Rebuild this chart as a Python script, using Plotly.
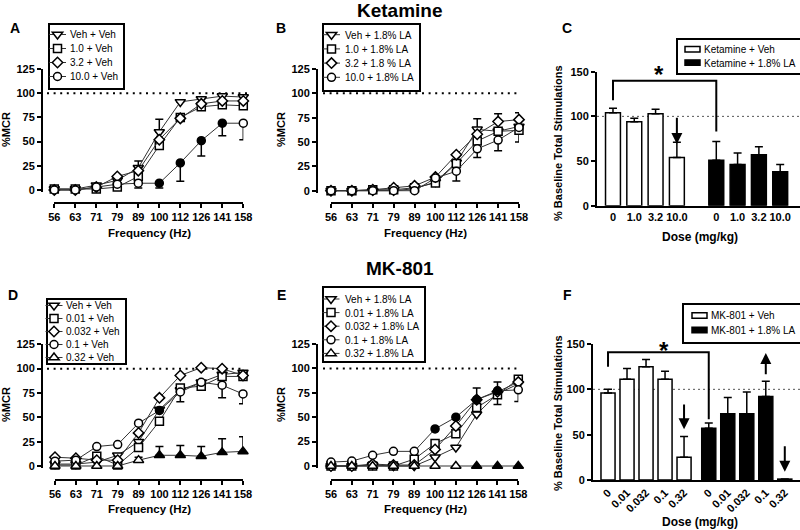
import plotly.graph_objects as go

W, H = 800, 530
FONT = "Liberation Sans"

# ---------------- data ----------------
freq = ["56", "63", "71", "79", "89", "100", "112", "126", "141", "158"]

# Panel A  (Ketamine + vehicle, %MCR)
a_names = ["Veh + Veh", "1.0 + Veh", "3.2 + Veh", "10.0 + Veh"]
a_veh = [1, 1, 5, 10, 23, 60, 91, 94, 97, 96]
a_1 = [1, 1, 1, 3, 14, 46, 75, 86, 88, 87]
a_3 = [0, 0, 3, 14, 20, 52, 74, 89, 92, 92]
a_10 = [0, 0, 3, 6, 7, 7, 28, 51, 69, 69]
a_veh_err = [0, 0, 0, 0, 7, 13, 0, 0, 0, 0]
a_10_err = [0, 0, 0, 0, 5, 5, 19, 16, 13, 17]
a_10_sig = [0, 0, 0, 0, 0, 1, 1, 1, 1, 0]

# Panel B  (Ketamine + 1.8% LA, %MCR)
b_names = ["Veh + 1.8% LA", "1.0 + 1.8% LA", "3.2 + 1.8 % LA", "10.0 + 1.8% LA"]
b_veh = [0, 0, 0, 0, 2, 9, 29, 63, 61, 66]
b_1 = [0, 0, 1, 1, 3, 8, 28, 51, 61, 62]
b_3 = [0, 0, 1, 3, 5, 14, 37, 58, 71, 73]
b_10 = [0, 0, 0, 0, 0, 13, 20, 43, 52, 65]
b_veh_err = [0, 0, 0, 0, 0, 0, 0, 11, 0, 0]
b_3_err = [0, 0, 0, 0, 0, 0, 0, 0, 8, 7]
b_10_err = [0, 0, 0, 0, 0, 0, 10, 9, 11, 0]
b_1_err = [0, 0, 0, 0, 0, 0, 0, 0, 0, 12]

# Panel C  (Ketamine, % baseline total stimulations)
c_doses = ["0", "1.0", "3.2", "10.0"]
c_names = ["Ketamine + Veh", "Ketamine + 1.8% LA"]
c_veh = [104, 94, 103, 54]
c_veh_err = [5, 4, 5, 17]
c_la = [51, 46, 57, 38]
c_la_err = [21, 13, 9, 8]

# Panel D  (MK-801 + vehicle, %MCR)
d_names = ["Veh + Veh", "0.01 + Veh", "0.032 + Veh", "0.1 + Veh", "0.32 + Veh"]
d_veh = [2, 2, 4, 11, 25, 58, 78, 86, 94, 96]
d_001 = [1, 1, 10, 1, 19, 46, 80, 82, 92, 92]
d_0032 = [9, 8, 6, 6, 34, 70, 93, 101, 100, 93]
d_01 = [5, 6, 20, 22, 44, 57, 76, 86, 83, 74]
d_032 = [0, 0, 0, 0, 6, 11, 11, 10, 14, 15]
d_veh_err = [0, 0, 0, 0, 0, 0, 12, 0, 0, 0]
d_01_err = [0, 0, 0, 0, 0, 0, 0, 0, 13, 10]
d_032_err = [0, 0, 0, 0, 3, 9, 10, 10, 14, 15]
d_01_sig = [0, 0, 0, 0, 0, 1, 0, 0, 0, 0]
d_032_sig = [0, 0, 0, 0, 0, 1, 1, 1, 1, 1]

# Panel E  (MK-801 + 1.8% LA, %MCR)
e_names = ["Veh + 1.8% LA", "0.01 + 1.8% LA", "0.032 + 1.8% LA", "0.1 + 1.8% LA", "0.32 + 1.8% LA"]
e_veh = [0, 0, 1, 0, 0, 9, 19, 53, 74, 84]
e_001 = [0, 0, 0, 0, 7, 23, 33, 60, 73, 89]
e_0032 = [0, 0, 2, 1, 1, 17, 41, 68, 76, 86]
e_01 = [4, 5, 11, 15, 15, 38, 50, 68, 77, 78]
e_032 = [0, 0, 0, 0, 0, 0, 0, 0, 0, 0]
e_0032_err = [0, 0, 0, 0, 0, 0, 0, 12, 0, 0]
e_01_err = [0, 0, 0, 0, 0, 0, 0, 0, 9, 0]
e_veh_err = [0, 0, 0, 0, 0, 0, 0, 0, 11, 0]
e_01_dn = [0, 0, 0, 0, 0, 0, 0, 0, 0, 12]
e_01_sig = [0, 0, 0, 0, 0, 1, 1, 1, 1, 0]
e_032_sig = [0, 0, 0, 0, 0, 0, 0, 1, 1, 1]

# Panel F  (MK-801, % baseline total stimulations)
f_doses = ["0", "0.01", "0.032", "0.1", "0.32"]
f_names = ["MK-801 + Veh", "MK-801 + 1.8% LA"]
f_veh = [96, 111, 125, 111, 25]
f_veh_err = [4, 12, 8, 9, 23]
f_la = [57, 73, 73, 92, 1]
f_la_err = [6, 18, 24, 17, 0]


# ---------------- helpers ----------------
def fx(px):
    return px / W


def fy(py):
    return 1 - py / H


TICKFONT = dict(family=FONT, size=11, color="black", weight="bold")
LEGFONT = dict(family=FONT, size=10, color="black")
PLOTLY_TEXT_X = 40  # where plotly puts legend text (itemwidth 30 + 2 * 5)
# legend box layout: [firstRowOffset, rowStep, bottomPad, symbolX, textX, isBar]
LEG_CFG = {
    "legend": [11.5, 14.0, 11, 9.5, 22, 0],
    "legend2": [11.7, 14.2, 13, 9.5, 23, 0],
    "legend3": [11.3, 13.3, 10.5, 16.5, 28, 1],
    "legend4": [7.5, 13.0, 5.5, 8, 20, 0],
    "legend5": [13.0, 13.6, 8, 9, 23, 0],
    "legend6": [12.5, 14.5, 11.5, 17.5, 29, 1],
}
fig = go.Figure()
annotations = []
shapes = []


def axname(k, a):
    return a if k == 1 else f"{a}{k}"


def legend_style(key, leg_pos):
    dx = PLOTLY_TEXT_X - LEG_CFG[key][4]
    return dict(x=fx(leg_pos[0] - dx), y=fy(leg_pos[1]), xanchor="left", yanchor="top",
                bordercolor="black", borderwidth=2, bgcolor="white", itemwidth=30,
                font=LEGFONT, tracegroupgap=0)


def line_panel(k, xpx, ypx0, ypx125, yline_x, xline_y, series, legend_key, leg_pos, dot_x):
    scale = (ypx0 - ypx125) / 125.0
    ybot = ypx0 + 2
    ymin = -(ybot - ypx0) / scale
    fig.update_layout({
        axname(k, "xaxis"): dict(
            domain=[fx(xpx[0]), fx(xpx[1])], type="category", range=[0, len(freq) - 1],
            anchor="free", position=fy(xline_y), showline=True, linewidth=2, linecolor="black",
            ticks="outside", ticklen=4, tickwidth=1.5, tickcolor="black", tickfont=TICKFONT,
            tickangle=0, showgrid=False, zeroline=False),
        axname(k, "yaxis"): dict(
            domain=[fy(ybot), fy(ypx125)], range=[ymin, 125], anchor="free", position=fx(yline_x),
            showline=True, linewidth=2, linecolor="black", ticks="outside", ticklen=4,
            tickwidth=1.5, tickcolor="black", tickvals=[0, 25, 50, 75, 100, 125],
            tickfont=TICKFONT, showgrid=False, zeroline=False),
        legend_key: legend_style(legend_key, leg_pos),
    })
    shapes.append(dict(type="line", xref="paper", yref=axname(k, "y"), x0=fx(dot_x[0]), x1=fx(dot_x[1]),
                       y0=100, y1=100, line=dict(color="black", width=2, dash="2px,4.6px"), layer="below"))
    for s in series:
        sig = s.get("sig")
        colors = ["black" if v else "white" for v in sig] if sig else "white"
        n = len(s["y"])
        up = s.get("up") or [0] * n
        dn = s.get("dn") or [0] * n
        has_err = bool(s.get("up") or s.get("dn"))
        fig.add_trace(go.Scatter(
            x=freq, y=s["y"], name=s["name"], mode="lines+markers",
            xaxis=axname(k, "x"), yaxis=axname(k, "y"), legend=legend_key, cliponaxis=False,
            line=dict(color="#333333", width=1),
            marker=dict(symbol=s["sym"], size=s.get("size", 8), color=colors,
                        line=dict(color="black", width=1.5)),
            error_y=dict(type="data", array=up, arrayminus=dn, symmetric=False, visible=has_err,
                         color="black", thickness=1.5, width=4),
        ))


def bar_panel(k, xpx, ypx0, ypx150, groups, doses, gap, width, legend_key, leg_pos, dot_x0, tickangle):
    ticks = []
    labels = []
    for gi, g in enumerate(groups):
        xs = [gi * gap + i for i in range(len(doses))]
        ticks += xs
        labels += doses
        fig.add_trace(go.Bar(
            x=xs, y=g["y"], name=g["name"], width=width, xaxis=axname(k, "x"), yaxis=axname(k, "y"),
            legend=legend_key, cliponaxis=False,
            marker=dict(color=g["color"], line=dict(color="black", width=1.5)),
            error_y=dict(type="data", array=g["err"], arrayminus=[0] * len(g["err"]), symmetric=False,
                         color="black", thickness=1.5, width=4),
        ))
    fig.update_layout({
        axname(k, "xaxis"): dict(
            domain=[fx(xpx[0]), fx(xpx[1])], range=xpx[2], anchor=axname(k, "y"),
            showline=True, linewidth=2, linecolor="black", ticks="", tickvals=ticks, ticktext=labels,
            tickangle=tickangle, tickfont=TICKFONT, showgrid=False, zeroline=False),
        axname(k, "yaxis"): dict(
            domain=[fy(ypx0), fy(ypx150)], range=[0, 150], anchor=axname(k, "x"),
            showline=True, linewidth=2, linecolor="black", ticks="outside", ticklen=4, tickwidth=1.5,
            tickcolor="black", tickvals=[0, 50, 100, 150], tickfont=TICKFONT,
            showgrid=False, zeroline=False),
        legend_key: legend_style(legend_key, leg_pos),
    })
    shapes.append(dict(type="line", xref="paper", yref=axname(k, "y"), x0=fx(dot_x0), x1=1,
                       y0=100, y1=100, line=dict(color="#555555", width=1, dash="2px,3px"), layer="below"))


SYMS5 = ["triangle-down", "square", "diamond", "circle", "triangle-up"]

# ---- Panel A ----
line_panel(1, (54.3, 243.3), 190, 69, 42, 203, [
    dict(name=a_names[0], y=a_veh, sym=SYMS5[0], size=9, up=a_veh_err),
    dict(name=a_names[1], y=a_1, sym=SYMS5[1]),
    dict(name=a_names[2], y=a_3, sym=SYMS5[2]),
    dict(name=a_names[3], y=a_10, sym=SYMS5[3], dn=a_10_err, sig=a_10_sig),
], "legend", (48, 23), (47, 247))

# ---- Panel B ----
line_panel(2, (331, 519), 190.7, 69, 317, 203, [
    dict(name=b_names[0], y=b_veh, sym=SYMS5[0], size=9, up=b_veh_err),
    dict(name=b_names[1], y=b_1, sym=SYMS5[1], dn=b_1_err),
    dict(name=b_names[2], y=b_3, sym=SYMS5[2], up=b_3_err),
    dict(name=b_names[3], y=b_10, sym=SYMS5[3], dn=b_10_err),
], "legend2", (322, 23), (323, 520))

# ---- Panel D ----
line_panel(4, (55, 243), 466, 344.3, 42, 480, [
    dict(name=d_names[0], y=d_veh, sym=SYMS5[0], size=9, dn=d_veh_err),
    dict(name=d_names[1], y=d_001, sym=SYMS5[1]),
    dict(name=d_names[2], y=d_0032, sym=SYMS5[2]),
    dict(name=d_names[3], y=d_01, sym=SYMS5[3], dn=d_01_err, sig=d_01_sig),
    dict(name=d_names[4], y=d_032, sym=SYMS5[4], size=9, up=d_032_err, sig=d_032_sig),
], "legend4", (46, 298), (47, 245))

# ---- Panel E ----
line_panel(5, (331, 518.3), 466, 344, 317, 480, [
    dict(name=e_names[0], y=e_veh, sym=SYMS5[0], size=9, dn=e_veh_err),
    dict(name=e_names[1], y=e_001, sym=SYMS5[1]),
    dict(name=e_names[2], y=e_0032, sym=SYMS5[2], up=e_0032_err),
    dict(name=e_names[3], y=e_01, sym=SYMS5[3], up=e_01_err, dn=e_01_dn, sig=e_01_sig),
    dict(name=e_names[4], y=e_032, sym=SYMS5[4], size=9, sig=e_032_sig),
], "legend5", (322, 286), (323, 519))

# ---- Panel C ----
C_GAP = 4.85
bar_panel(3, (597, 800, [-0.75, 8.78]), 205.7, 71.7, [
    dict(name=c_names[0], y=c_veh, err=c_veh_err, color="white"),
    dict(name=c_names[1], y=c_la, err=c_la_err, color="black"),
], c_doses, C_GAP, 0.7, "legend3", (676, 38), 597, 0)

# ---- Panel F ----
F_GAP = 5.3
bar_panel(6, (593, 800, [-0.79, 10.1]), 480, 344, [
    dict(name=f_names[0], y=f_veh, err=f_veh_err, color="white"),
    dict(name=f_names[1], y=f_la, err=f_la_err, color="black"),
], f_doses, F_GAP, 0.74, "legend6", (682, 303), 593, -45)

# significance brackets and stars
shapes.append(dict(type="path", xref="x3", yref="y3",
                   path=f"M 0,118 L 0,140 L {C_GAP},140 L {C_GAP},83",
                   line=dict(color="black", width=2)))
shapes.append(dict(type="path", xref="x6", yref="y6",
                   path=f"M 0,125 L 0,141 L {F_GAP},141 L {F_GAP},67",
                   line=dict(color="black", width=2)))
annotations.append(dict(x=2.17, y=129, xref="x3", yref="y3", text="*", showarrow=False,
                        font=dict(family=FONT, size=24, color="black", weight="bold"), yanchor="bottom"))
annotations.append(dict(x=2.95, y=126, xref="x6", yref="y6", text="*", showarrow=False,
                        font=dict(family=FONT, size=24, color="black", weight="bold"), yanchor="bottom"))


# arrows
def arrow(k, x, tail, tip):
    annotations.append(dict(x=x, y=tip, ax=x, ay=tail, xref=axname(k, "x"), yref=axname(k, "y"),
                            axref=axname(k, "x"), ayref=axname(k, "y"), text="", showarrow=True,
                            arrowhead=2, arrowsize=1.1, arrowwidth=2, arrowcolor="black", standoff=0))


arrow(3, c_doses.index("10.0"), 100, 69)
arrow(6, f_doses.index("0.32"), 85, 56)
arrow(6, F_GAP + f_doses.index("0.1"), 115, 140)
arrow(6, F_GAP + f_doses.index("0.32"), 39, 9)


# text labels
def label(text, xpx, ypx, size, angle=0, weight="bold"):
    annotations.append(dict(x=fx(xpx), y=fy(ypx), xref="paper", yref="paper", text=text,
                            showarrow=False, textangle=angle, xanchor="center", yanchor="middle",
                            font=dict(family=FONT, size=size, color="black", weight=weight)))


label("Ketamine", 400, 11, 19)
label("MK-801", 400, 268, 19)
for t, x, y in [("A", 15, 28), ("B", 281, 28), ("C", 567, 28), ("D", 13, 295), ("E", 281, 295), ("F", 567, 295)]:
    label(t, x, y, 14)
for x, y in [(6, 130), (281, 130), (6, 405), (281, 405)]:
    label("%MCR", x, y, 11, -90)
for x, y in [(149, 233), (425, 233), (149, 509), (425, 509)]:
    label("Frequency (Hz)", x, y, 11.5)
label("% Baseline Total Stimulations", 558, 143, 11, -90)
label("% Baseline Total Stimulations", 558, 413, 11, -90)
label("Dose (mg/kg)", 700, 237, 12)
label("Dose (mg/kg)", 700, 522, 12)

fig.update_layout(
    width=W, height=H, margin=dict(l=0, r=0, t=0, b=0, autoexpand=False),
    paper_bgcolor="white", plot_bgcolor="white",
    font=dict(family=FONT, color="black"),
    showlegend=True, barmode="overlay",
    annotations=annotations, shapes=shapes,
)

# Page without body margin + compact Prism-style legend boxes.
# Legend text stays where plotly puts it; the box and symbols are laid out around it.
POST_JS = r"""
(function() {
  document.body.style.margin = '0';
  document.body.style.padding = '0';
  var gd = document.getElementById('{plot_id}');
  var CFG = __CFG__;
  var TX = __TX__;
  var ctx = document.createElement('canvas').getContext('2d');
  ctx.font = '10px "Liberation Sans"';
  var widths = {};
  (gd.data || []).forEach(function(tr) {
    var L = tr.legend || 'legend';
    var w = ctx.measureText(String(tr.name || '')).width;
    widths[L] = Math.max(widths[L] || 0, w);
  });
  function fix() {
    try {
      gd.querySelectorAll('g.infolayer > g').forEach(function(lg) {
        var cls = lg.getAttribute('class') || '';
        var c = CFG[cls];
        if (!c) return;
        var dx = TX - c[4];
        var items = lg.querySelectorAll('g.traces');
        if (!items.length) return;
        items.forEach(function(it, i) {
          it.setAttribute('transform', 'translate(0,' + (c[0] + i * c[1]) + ')');
          it.querySelectorAll('path.js-line').forEach(function(p) {
            p.setAttribute('d', 'M' + (dx + c[3] - 8.5) + ',0h17');
          });
          it.querySelectorAll('g.legendpoints path').forEach(function(p) {
            if (c[5]) {
              p.setAttribute('transform', 'translate(' + (dx + c[3]) + ',0) scale(1.25,0.45)');
              p.style.vectorEffect = 'non-scaling-stroke';
            } else {
              p.setAttribute('transform', 'translate(' + (dx + c[3]) + ',0)');
            }
          });
        });
        var bg = lg.querySelector('rect.bg');
        if (bg) {
          bg.setAttribute('x', dx + 1);
          bg.setAttribute('height', c[0] + (items.length - 1) * c[1] + c[2]);
          bg.setAttribute('width', c[4] + (widths[cls] || 60) + 5);
        }
      });
    } catch (e) {}
  }
  fix();
  var obs = new MutationObserver(function() {
    obs.disconnect();
    fix();
    obs.takeRecords();
    obs.observe(gd, {childList: true, subtree: true, attributes: true});
  });
  obs.observe(gd, {childList: true, subtree: true, attributes: true});
  setTimeout(fix, 30);
  setTimeout(fix, 300);
})();
"""
import json
POST_JS = POST_JS.replace("__CFG__", json.dumps(LEG_CFG)).replace("__TX__", str(PLOTLY_TEXT_X))

fig.write_html("out.html", post_script=POST_JS, config={"displayModeBar": False})
